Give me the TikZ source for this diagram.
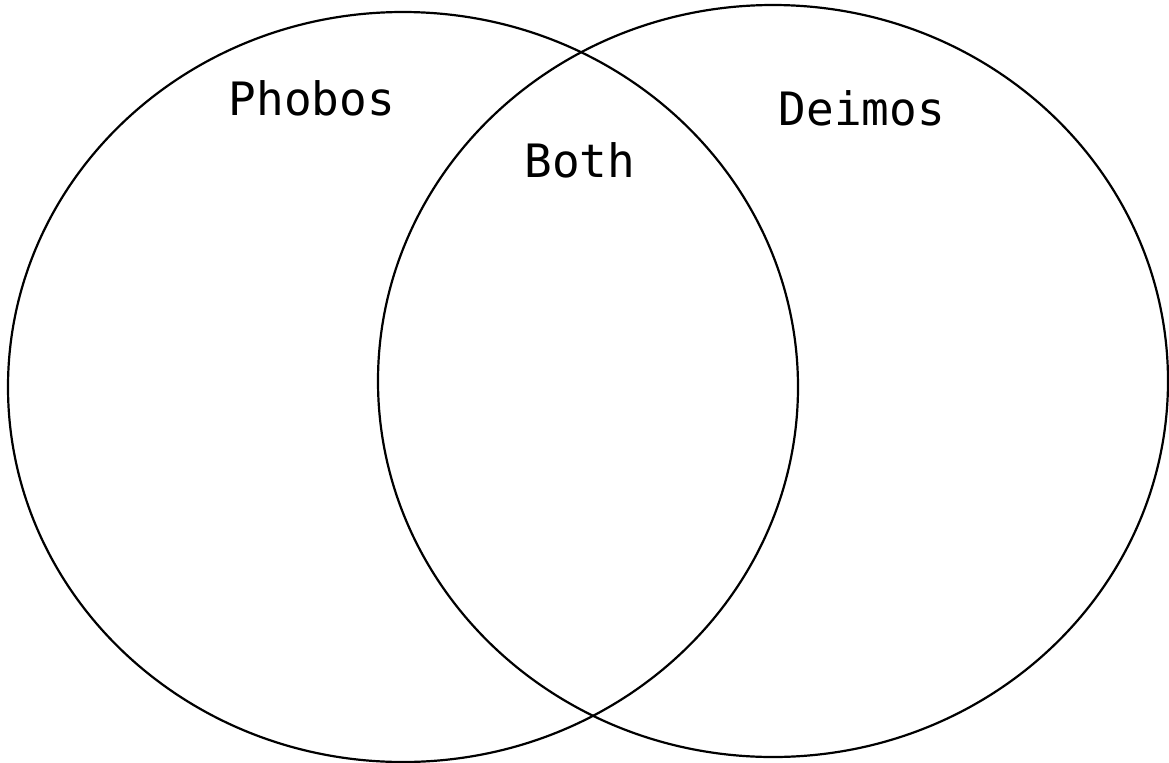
\documentclass[tikz,border=0pt]{standalone}
\usepackage{fontspec}
\setmonofont{DejaVu Sans Mono}
\usepackage{tikz}
\usetikzlibrary{positioning}
\tikzset{
    setline/.style={draw=black, line width=1.1pt},
    setlabel/.style={font=\ttfamily\fontsize{23}{27}\selectfont, anchor=base, inner sep=0pt},
}

\begin{document}
\begin{tikzpicture}[x=0.5pt,y=-0.5pt]
\useasboundingbox (0,0) rectangle (1169,762);

\coordinate (phobosc) at (403,387);
\coordinate (deimosc) at (773,381);

\draw [setline] (phobosc) ellipse [x radius=395, y radius=375];
\draw [setline] (deimosc) ellipse [x radius=395, y radius=376];

\node [setlabel] at (312,115) (phobos) {Phobos};
\node [setlabel] at (580,177) (both) {Both};
\node [setlabel] at (862,125) (deimos) {Deimos};

\end{tikzpicture}
\end{document}
